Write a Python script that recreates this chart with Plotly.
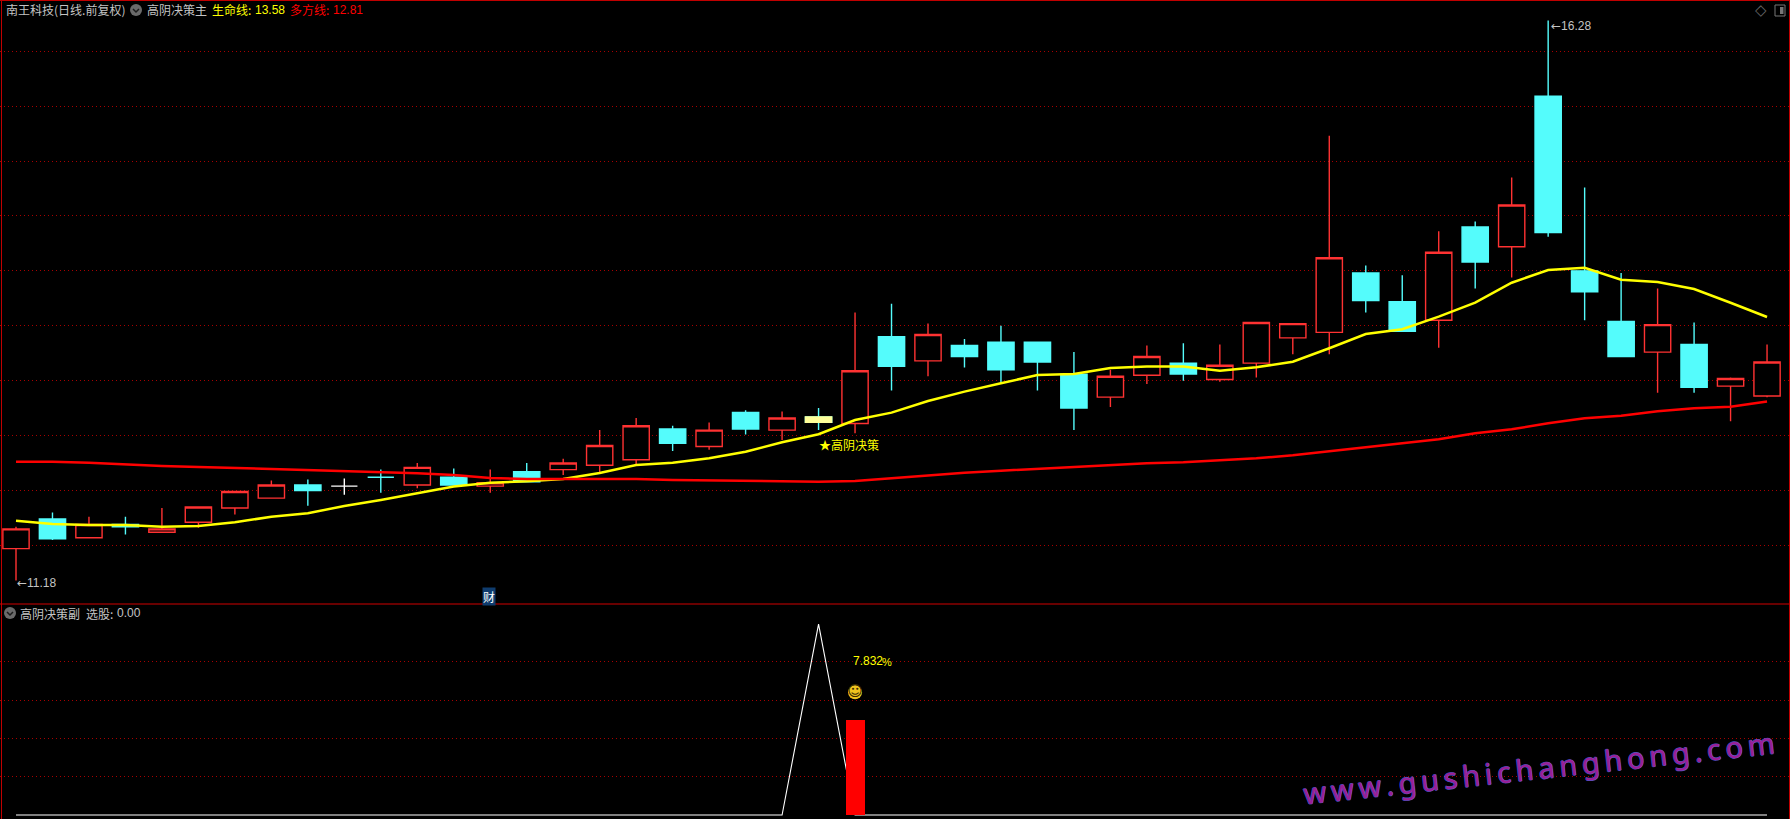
import plotly.graph_objects as go

# ---------- data ----------
days = list(range(49))
opens = [11.47,11.74,11.57,11.69,11.62,11.71,11.84,11.93,12.05,12.04,12.12,12.05,12.12,12.04,12.17,12.19,12.23,12.28,12.56,12.40,12.71,12.55,12.67,12.61,13.40,13.18,13.32,13.35,13.35,13.06,12.85,13.05,13.16,13.01,13.16,13.39,13.44,13.98,13.72,13.55,14.40,14.22,15.59,14.00,13.54,13.26,13.33,12.95,12.86]
highs = [11.67,11.80,11.76,11.76,11.84,11.85,11.99,12.09,12.10,12.11,12.19,12.25,12.20,12.19,12.25,12.29,12.55,12.66,12.59,12.62,12.73,12.72,12.75,13.62,13.70,13.52,13.38,13.50,13.35,13.26,13.10,13.32,13.34,13.33,13.53,13.52,15.23,14.05,13.96,14.36,14.45,14.85,16.28,14.76,13.98,13.84,13.53,13.03,13.33]
lows = [11.18,11.55,11.57,11.60,11.62,11.66,11.78,11.93,11.86,11.96,11.98,12.02,12.05,11.98,12.08,12.14,12.16,12.23,12.36,12.37,12.51,12.46,12.55,12.52,12.91,13.04,13.12,12.98,12.91,12.55,12.76,12.97,13.00,12.99,13.03,13.24,13.24,13.62,13.45,13.30,13.84,13.94,14.31,13.55,13.22,12.89,12.89,12.63,12.85]
closes = [11.65,11.56,11.69,11.67,11.65,11.85,11.99,12.05,12.00,12.04,12.12,12.21,12.05,12.07,12.08,12.25,12.41,12.59,12.43,12.55,12.56,12.66,12.62,13.09,13.13,13.42,13.22,13.10,13.17,12.75,13.04,13.22,13.06,13.14,13.53,13.52,14.12,13.73,13.45,14.17,14.08,14.60,14.35,13.81,13.22,13.51,12.94,13.02,13.17]
life_line = [11.725,11.695,11.686,11.686,11.670,11.677,11.710,11.761,11.792,11.859,11.913,11.974,12.036,12.071,12.084,12.105,12.159,12.232,12.253,12.293,12.353,12.439,12.512,12.642,12.709,12.815,12.900,12.976,13.052,13.061,13.116,13.128,13.128,13.091,13.122,13.173,13.295,13.425,13.468,13.583,13.710,13.892,14.008,14.029,13.920,13.899,13.835,13.710,13.580]
bull_line = [12.262,12.262,12.253,12.235,12.223,12.214,12.205,12.199,12.187,12.178,12.168,12.157,12.141,12.114,12.105,12.105,12.105,12.105,12.096,12.093,12.087,12.087,12.080,12.087,12.114,12.141,12.162,12.180,12.196,12.214,12.232,12.248,12.257,12.275,12.293,12.320,12.357,12.396,12.433,12.466,12.521,12.557,12.612,12.658,12.681,12.721,12.749,12.763,12.810]
white_days = [9]
signal_day = [22]
pick_line = [0]*22 + [4.98] + [0]*26
pick_bar_day = [23]
pick_bar = [2.48]
pick_label = "7.832"
smile_value = [3.2]
label_value = [4.02]
signal_label_price = [12.42]
price_ticks = [11.5,12,12.5,13,13.5,14,14.5,15,15.5,16]
sub_ticks = [1,2,3,4]

W, H = 1790, 819
RED, CYAN, GOLD, PALE, FRAME = "#ff3232", "#54fcfc", "#ffff00", "#ffff99", "#c00000"
GREY = "#c4c4c4"
CJK = "Noto Sans CJK SC"
LAT = "Liberation Sans"
px = lambda x: x / W
py = lambda y: 1 - y / H

up = [d for d in days if closes[d] > opens[d]]
down = [d for d in days if closes[d] <= opens[d] and d not in white_days and d not in signal_day]

def candles(idx, colour, fill, hi=None, lo=None):
    return go.Candlestick(
        x=idx, open=[opens[i] for i in idx], high=hi or [highs[i] for i in idx],
        low=lo or [lows[i] for i in idx], close=[closes[i] for i in idx],
        increasing=dict(line=dict(color=colour, width=1.4), fillcolor=fill),
        decreasing=dict(line=dict(color=colour, width=1.4), fillcolor=fill),
        whiskerwidth=0, showlegend=False, xaxis="x", yaxis="y")

fig = go.Figure()
fig.add_trace(candles(up, RED, "#000000"))
fig.add_trace(candles(down, CYAN, CYAN))
fig.add_trace(candles(white_days, "#ffffff", "#ffffff"))
fig.add_trace(candles(signal_day, CYAN, PALE))
fig.add_trace(candles(signal_day, PALE, PALE, [opens[i] for i in signal_day], [closes[i] for i in signal_day]))
fig.add_trace(go.Scatter(x=days, y=life_line, mode="lines", line=dict(color=GOLD, width=2.5), xaxis="x", yaxis="y", showlegend=False))
fig.add_trace(go.Scatter(x=days, y=bull_line, mode="lines", line=dict(color="#ff0000", width=2.5), xaxis="x", yaxis="y", showlegend=False))
fig.add_trace(go.Scatter(x=days, y=pick_line, mode="lines", line=dict(color="#ffffff", width=1.1), xaxis="x2", yaxis="y2", showlegend=False))
fig.add_trace(go.Bar(x=pick_bar_day, y=pick_bar, width=0.52, marker=dict(color="#ff0000", line=dict(width=0)), xaxis="x2", yaxis="y3", showlegend=False))
fig.add_trace(go.Scatter(x=pick_bar_day, y=smile_value, mode="markers+text", text=["☺"], textposition="middle center",
                         textfont=dict(family="DejaVu Sans", size=15, color="#3a2c00"),
                         marker=dict(color="#f0c41e", size=14), xaxis="x2", yaxis="y3", showlegend=False))

ann = []
def t(x, y, s, color=GREY, size=12, family=CJK, **k):
    ann.append(dict(x=px(x), y=py(y), xref="paper", yref="paper", text=s, showarrow=False,
                    xanchor=k.pop("xanchor", "left"), yanchor="middle",
                    font=dict(family=family, size=size, color=color), **k))

t(4, 10, "南王科技(日线.前复权)")
t(145, 10, "高阴决策主")
t(210, 10, "生命线:", GOLD)
t(253, 10, "13.58", GOLD, 12, LAT)
t(288, 10, "多方线:", "#ff0000")
t(331, 10, "12.81", "#ff0000", 12, LAT)
t(18, 613, "高阴决策副")
t(84, 613, "选股:")
t(115, 613, "0.00", GREY, 12, LAT)
t(1761, 10, "◇", "#666666", 15, "DejaVu Sans", xanchor="center")
t(489.5, 596.7, "财", "#ffffff", 12, CJK, xanchor="center", bgcolor="#0f3c6e", borderpad=0)

# labels tied to the data
ARROW = '<span style="font-family:DejaVu Sans">←</span>'
ann.append(dict(x=days[0], y=lows[0], xref="x", yref="y", text=ARROW + "11.18", showarrow=False, xanchor="left", yanchor="middle",
                xshift=-1, yshift=-2, font=dict(family=LAT, size=12, color=GREY)))
ann.append(dict(x=days[42], y=highs[42], xref="x", yref="y", text=ARROW + "16.28", showarrow=False, xanchor="left", yanchor="middle",
                xshift=1, yshift=-5, font=dict(family=LAT, size=12, color=GREY)))
ann.append(dict(x=signal_day[0], y=signal_label_price[0], xref="x", yref="y", text="★高阴决策", showarrow=False, xanchor="left", yanchor="middle",
                xshift=-2, font=dict(family=CJK, size=12, color=GOLD)))
ann.append(dict(x=pick_bar_day[0], y=label_value[0], xref="x2", yref="y3", text=pick_label, showarrow=False, xanchor="left", yanchor="middle",
                xshift=-4, font=dict(family=LAT, size=12, color=GOLD)))
ann.append(dict(x=pick_bar_day[0], y=label_value[0], xref="x2", yref="y3", text="%", showarrow=False, xanchor="left", yanchor="middle",
                xshift=25, yshift=-1, font=dict(family=LAT, size=11, color=GOLD)))

mark = "\u2009".join("www.gushichanghong.com")
t(1539, 767, mark, "#9a1f96", 29, "Noto Sans", xanchor="center", textangle=-6.2)
ann[-1]["font"]["shadow"] = "0.6px 0 #5252c0, -0.6px 0 #5252c0, 0 0.6px #5252c0, 0 -0.6px #5252c0"

def rect(x0, y0, x1, y1, color=None, line=None, lw=1):
    return dict(type="rect", xref="paper", yref="paper", x0=px(x0), x1=px(x1), y0=py(y0), y1=py(y1),
                fillcolor=color or "rgba(0,0,0,0)", line=dict(color=line or "rgba(0,0,0,0)", width=lw))

def icon(cx, cy):
    return [dict(type="circle", xref="paper", yref="paper", x0=px(cx-6), x1=px(cx+6), y0=py(cy+6), y1=py(cy-6),
                 fillcolor="#6a6a6a", line=dict(width=0)),
            dict(type="path", xref="paper", yref="paper",
                 path=f"M {px(cx-3)} {py(cy-1)} L {px(cx)} {py(cy+2)} L {px(cx+3)} {py(cy-1)}",
                 line=dict(color="#1c1c1c", width=1.5))]

shapes = [rect(0, 0, W, 1, FRAME), rect(1, 0, 2, H, FRAME), rect(1789, 0, 1790, H, FRAME), rect(0, 603.5, W, 604.5, "#d00000")]
shapes += icon(136, 10) + icon(10, 613)
shapes += [dict(type="rect", xref="paper", yref="paper", x0=px(1775), x1=px(1785), y0=py(16), y1=py(5),
                line=dict(color="#777777", width=1), fillcolor="rgba(0,0,0,0)"),
           rect(1780, 7, 1783.5, 14, "#777777")]

STEP = 36.48
xr = [-16 / STEP, (W - 16) / STEP]
grid = dict(griddash="1px,3px", gridcolor="#a80000", gridwidth=1, zeroline=False, showticklabels=False, ticks="", showline=False)
sub_range = [-0.104, 5.505]
fig.update_layout(
    width=W, height=H, margin=dict(l=0, r=0, t=0, b=0), paper_bgcolor="#000000", plot_bgcolor="#000000",
    showlegend=False, boxgap=0.28, boxgroupgap=0, bargap=0, annotations=ann, shapes=shapes,
    xaxis=dict(domain=[0, 1], range=xr, visible=False, rangeslider=dict(visible=False), anchor="y"),
    xaxis2=dict(domain=[0, 1], range=xr, visible=False, anchor="y2"),
    yaxis=dict(domain=[1 - 604 / H, 1], range=[10.966, 16.467], tickvals=price_ticks, anchor="x", **grid),
    yaxis2=dict(domain=[0, 1 - 604 / H], range=sub_range, tickvals=sub_ticks, anchor="x2", **grid),
    yaxis3=dict(domain=[0, 1 - 604 / H], range=sub_range, overlaying="y2", anchor="x2", visible=False),
)
fig.write_html("out.html", config=dict(displayModeBar=False), post_script="document.body.style.margin='0';document.documentElement.style.background='#000';")
